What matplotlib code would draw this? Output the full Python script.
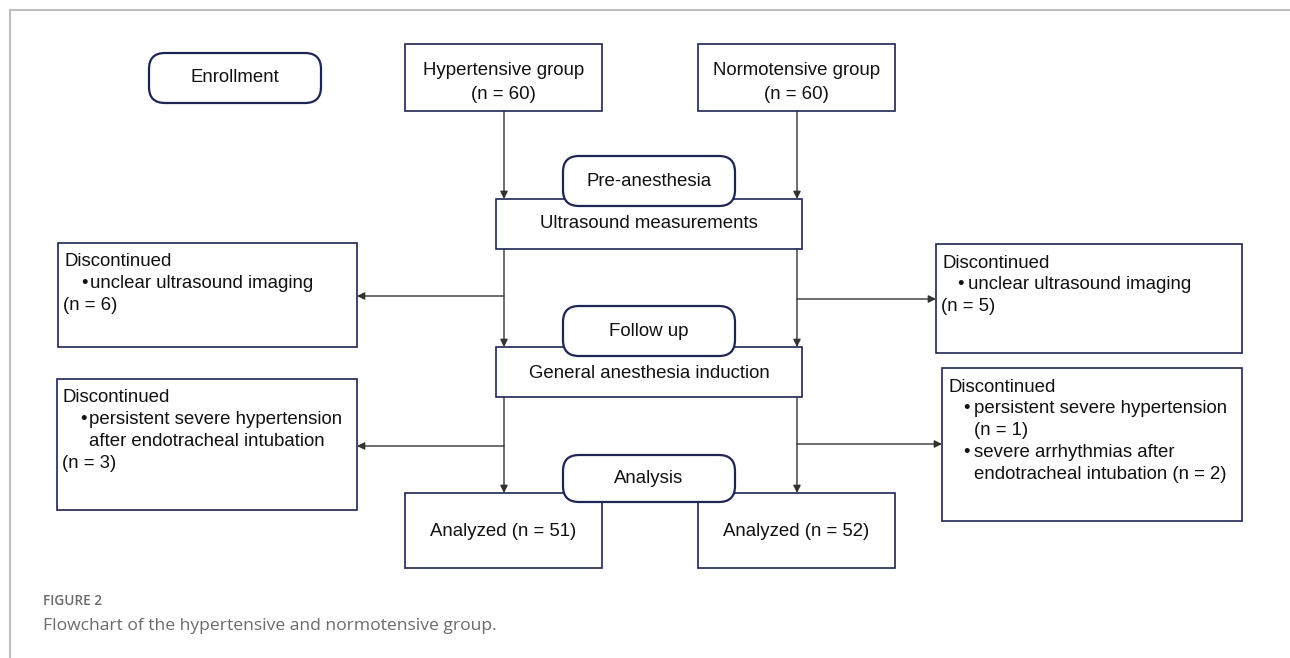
import matplotlib
matplotlib.use("Agg")
from matplotlib import pyplot as plt
from matplotlib.patches import Rectangle, FancyBboxPatch

# chart content
group_names = ["Hypertensive group", "Normotensive group"]
group_n = [60, 60]
stage_labels = ["Enrollment", "Pre-anesthesia", "Follow up", "Analysis"]
step_labels = ["Ultrasound measurements", "General anesthesia induction"]
excluded_ultrasound = [6, 5]
excluded_reason_ultrasound = "unclear ultrasound imaging"
excluded_induction_left = [("persistent severe hypertension\nafter endotracheal intubation", 3)]
excluded_induction_right = [("persistent severe hypertension", 1),
                            ("severe arrhythmias after\nendotracheal intubation", 2)]
analyzed_n = [51, 52]
caption_title = "FIGURE 2"
caption_text = "Flowchart of the hypertensive and normotensive group."

FONT = "Liberation Sans"
FS = 13.4
NAVY = "#1f2553"
ARROW = "#333333"
LINE_H = 21.8


def rect(ax, x0, y0, x1, y1, lw=1.2):
    ax.add_patch(Rectangle((x0, y0), x1 - x0, y1 - y0, fill=True, fc="white",
                           ec=NAVY, lw=lw, zorder=2))


def rounded(ax, x0, y0, x1, y1, text):
    ax.add_patch(FancyBboxPatch((x0, y0), x1 - x0, y1 - y0,
                                boxstyle="round,pad=0,rounding_size=16",
                                fc="white", ec=NAVY, lw=1.6, zorder=4))
    ax.text((x0 + x1) / 2, (y0 + y1) / 2, text, ha="center", va="center",
            fontsize=FS, family=FONT, color="#111111", zorder=5)


def arrow(ax, x0, y0, x1, y1):
    ax.annotate("", xy=(x1, y1), xytext=(x0, y0),
                arrowprops=dict(arrowstyle="-|>", color=ARROW, lw=1.0,
                                mutation_scale=11, shrinkA=0, shrinkB=0),
                zorder=3)


def discontinued(ax, box, items, bullet_dx, text_dx, single=None):
    x0, y0, x1, y1 = box
    rect(ax, x0, y0, x1, y1)
    y = y0 + 23.5
    tx = dict(fontsize=FS, family=FONT, color="#111111", va="baseline", zorder=5)
    ax.text(x0 + 6, y, "Discontinued", **tx)
    for reason, n in items:
        y += LINE_H
        ax.text(x0 + bullet_dx, y, "\u2022", **tx)
        lines = reason.split("\n")
        if single is None and len(lines) > 1:
            lines[-1] = lines[-1] + " (n = %d)" % n
        for k, line in enumerate(lines):
            if k > 0:
                y += LINE_H
            ax.text(x0 + text_dx, y, line, **tx)
        if single is None and len(lines) == 1:
            y += LINE_H
            ax.text(x0 + text_dx, y, "(n = %d)" % n, **tx)
    if single is not None:
        y += LINE_H
        ax.text(x0 + 5, y, "(n = %d)" % single, **tx)


def main():
    fig = plt.figure(figsize=(12.9, 6.58), dpi=100)
    ax = fig.add_axes([0, 0, 1, 1])
    ax.set_xlim(0, 1290)
    ax.set_ylim(658, 0)
    ax.axis("off")

    # page frame
    ax.plot([10, 1290], [10, 10], color="#bdbdbd", lw=1.5)
    ax.plot([10, 10], [10, 658], color="#bdbdbd", lw=1.5)

    cols = [(405, 602), (698, 895)]
    xs = [504, 797]

    rounded(ax, 149, 53, 321, 103, stage_labels[0])
    for (a, b), name, n in zip(cols, group_names, group_n):
        rect(ax, a, 44, b, 111)
        ax.text((a + b) / 2, 75, name, ha="center", va="baseline", fontsize=FS,
                family=FONT, color="#111111", zorder=5)
        ax.text((a + b) / 2, 99, "(n = %d)" % n, ha="center", va="baseline",
                fontsize=FS, family=FONT, color="#111111", zorder=5)

    rect(ax, 496, 199, 802, 249)
    ax.text(649, 224, step_labels[0], ha="center", va="center", fontsize=FS,
            family=FONT, color="#111111", zorder=5)
    rounded(ax, 563, 156, 735, 206, stage_labels[1])

    rect(ax, 496, 347, 802, 397)
    ax.text(649, 373, step_labels[1], ha="center", va="center", fontsize=FS,
            family=FONT, color="#111111", zorder=5)
    rounded(ax, 563, 306, 735, 356, stage_labels[2])

    for (a, b), n in zip(cols, analyzed_n):
        rect(ax, a, 493, b, 568)
        ax.text((a + b) / 2, 531, "Analyzed (n = %d)" % n, ha="center",
                va="center", fontsize=FS, family=FONT, color="#111111", zorder=5)
    rounded(ax, 563, 455, 735, 502, stage_labels[3])

    # vertical flow
    for x in xs:
        arrow(ax, x, 111, x, 199)
        arrow(ax, x, 249, x, 347)
        arrow(ax, x, 397, x, 493)

    # exclusions
    discontinued(ax, (58, 243, 357, 347),
                 [(excluded_reason_ultrasound, excluded_ultrasound[0])], 23, 32,
                 single=excluded_ultrasound[0])
    arrow(ax, xs[0], 296, 357, 296)
    discontinued(ax, (936, 244, 1242, 353),
                 [(excluded_reason_ultrasound, excluded_ultrasound[1])], 21, 32,
                 single=excluded_ultrasound[1])
    arrow(ax, xs[1], 299, 936, 299)

    discontinued(ax, (57, 379, 357, 510), excluded_induction_left, 23, 32,
                 single=excluded_induction_left[0][1])
    arrow(ax, xs[0], 446, 357, 446)
    discontinued(ax, (942, 368, 1242, 521), excluded_induction_right, 21, 32)
    arrow(ax, xs[1], 444, 942, 444)

    ax.text(43, 605, caption_title, fontsize=9.8, family="Open Sans",
            weight="semibold", color="#6b6b6b", va="baseline")
    ax.text(43, 630, caption_text, fontsize=12.6, family="Open Sans",
            color="#6b6b6b", va="baseline")

    fig.savefig("out.png", dpi=100)


if __name__ == "__main__":
    main()
